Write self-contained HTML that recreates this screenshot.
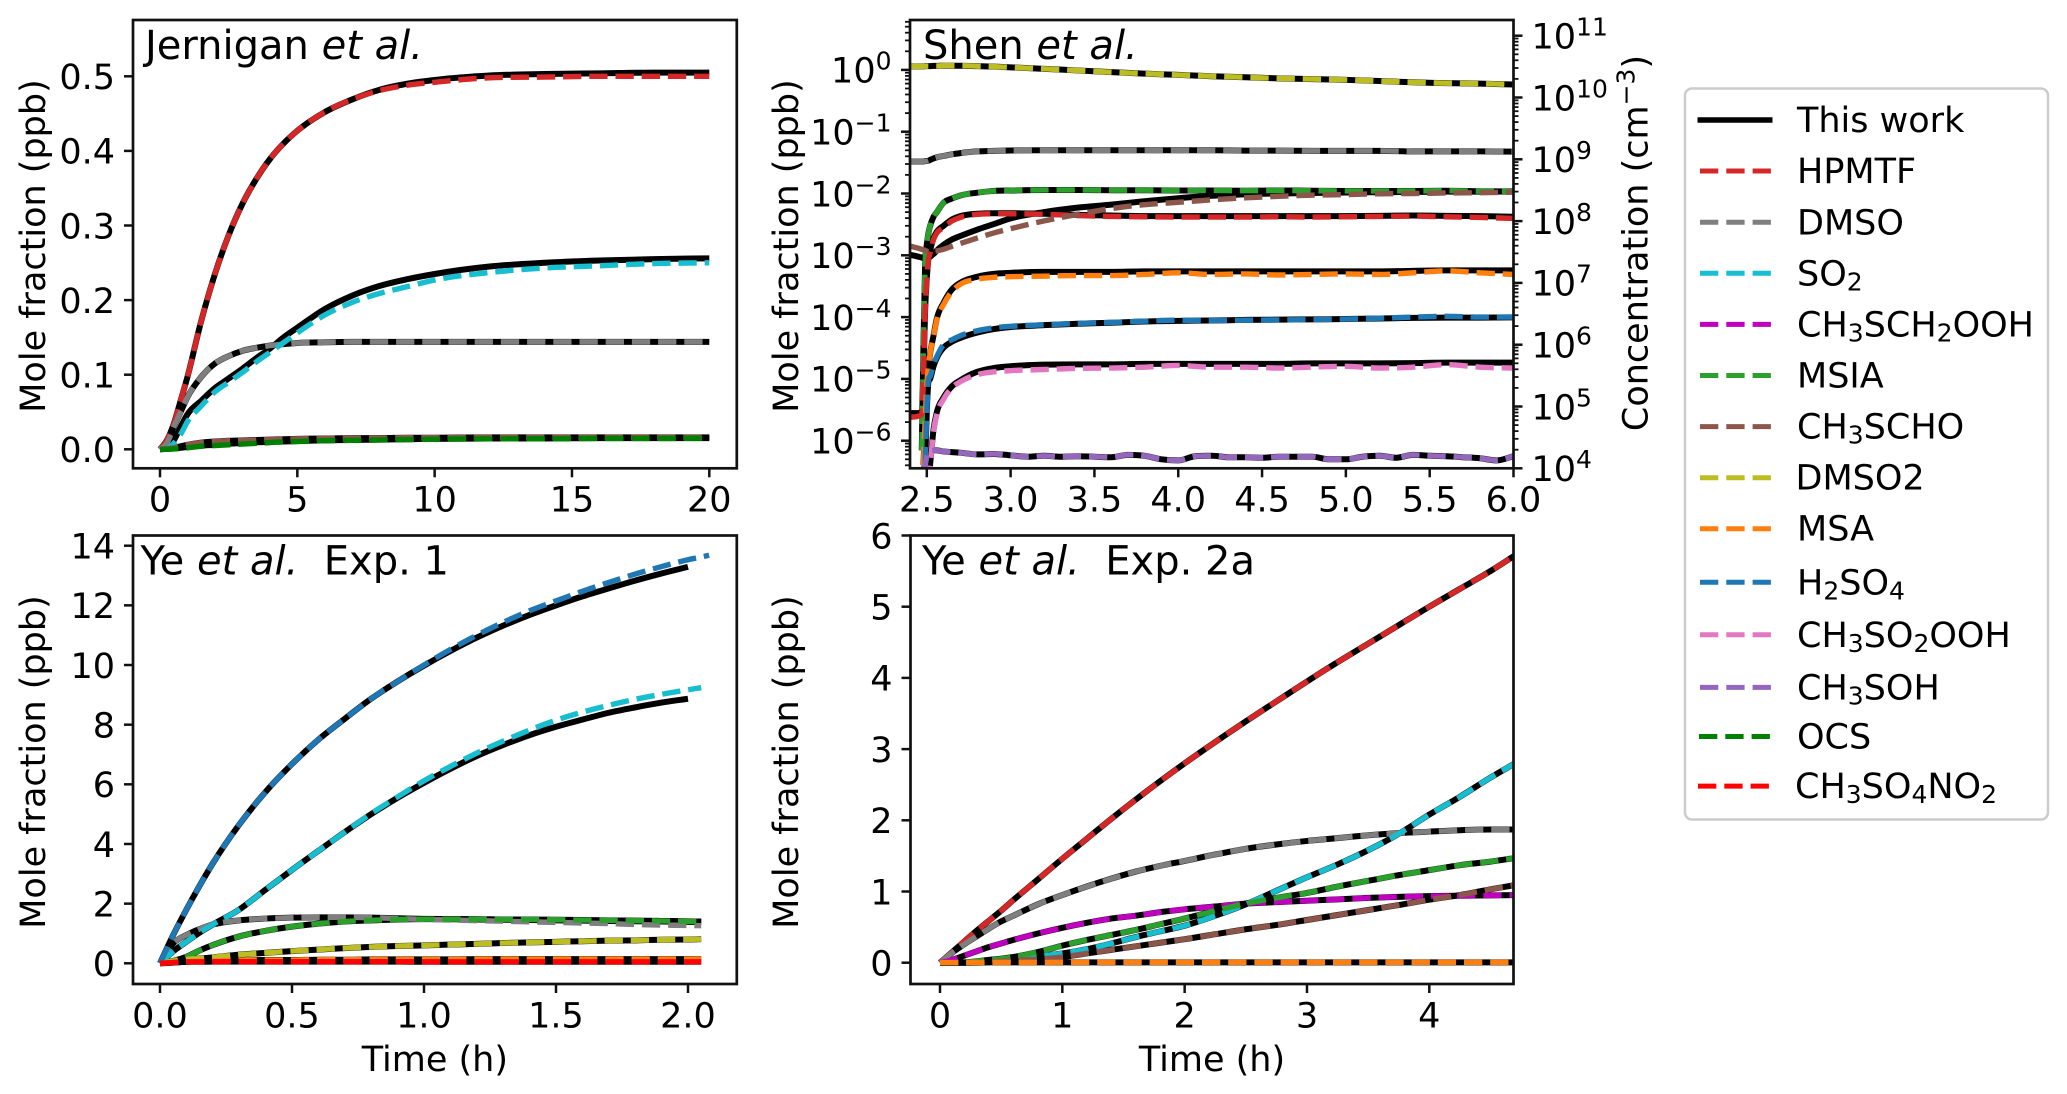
<!DOCTYPE html>
<html lang="en">
<head>
<meta charset="utf-8">
<title>Multi-panel mole fraction chart</title>
<style>
  html,body{margin:0;padding:0;background:#fff;}
  svg{display:block;}
  text{font-family:"DejaVu Sans","Liberation Sans",sans-serif;fill:#000;white-space:pre;}
  .sub{font-size:25px;}
</style>
</head>
<body>
<svg id="chart" xmlns="http://www.w3.org/2000/svg" width="2067" height="1094" viewBox="0 0 2067 1094">
  <rect x="0" y="0" width="2067" height="1094" fill="#fff"/>
  <g id="panels"></g>
  <g id="legend" font-size="35">
    <rect x="1685" y="88.5" width="363" height="731" rx="7" ry="7" fill="#fff" stroke="#cccccc" stroke-width="2.5"/>
    <line x1="1697.5" x2="1772.5" y1="120" y2="120" stroke="#000" stroke-width="5.5"/>
    <text x="1797" y="132">This work</text>
    <line x1="1700" x2="1771" y1="171" y2="171" stroke="#d62728" stroke-width="5" stroke-dasharray="18.3 8"/>
    <text x="1797" y="183">HPMTF</text>
    <line x1="1700" x2="1771" y1="222.3" y2="222.3" stroke="#7f7f7f" stroke-width="5" stroke-dasharray="18.3 8"/>
    <text x="1797" y="234.3">DMSO</text>
    <line x1="1700" x2="1771" y1="273.3" y2="273.3" stroke="#17becf" stroke-width="5" stroke-dasharray="18.3 8"/>
    <text x="1797" y="285.3">SO<tspan class="sub" dy="5">2</tspan></text>
    <line x1="1700" x2="1771" y1="324.4" y2="324.4" stroke="#bf00bf" stroke-width="5" stroke-dasharray="18.3 8"/>
    <text x="1797" y="336.4">CH<tspan class="sub" dy="5">3</tspan><tspan dy="-5">SCH</tspan><tspan class="sub" dy="5">2</tspan><tspan dy="-5">OOH</tspan></text>
    <line x1="1700" x2="1771" y1="375.5" y2="375.5" stroke="#2ca02c" stroke-width="5" stroke-dasharray="18.3 8"/>
    <text x="1797" y="387.5">MSIA</text>
    <line x1="1700" x2="1771" y1="426.6" y2="426.6" stroke="#8c564b" stroke-width="5" stroke-dasharray="18.3 8"/>
    <text x="1797" y="438.6">CH<tspan class="sub" dy="5">3</tspan><tspan dy="-5">SCHO</tspan></text>
    <line x1="1700" x2="1771" y1="477.7" y2="477.7" stroke="#bcbd22" stroke-width="5" stroke-dasharray="18.3 8"/>
    <text x="1795.5" y="489.7">DMSO2</text>
    <line x1="1700" x2="1771" y1="528.7" y2="528.7" stroke="#ff7f0e" stroke-width="5" stroke-dasharray="18.3 8"/>
    <text x="1797" y="540.7">MSA</text>
    <line x1="1700" x2="1771" y1="582.3" y2="582.3" stroke="#1f77b4" stroke-width="5" stroke-dasharray="18.3 8"/>
    <text x="1797" y="594.3">H<tspan class="sub" dy="5">2</tspan><tspan dy="-5">SO</tspan><tspan class="sub" dy="5">4</tspan></text>
    <line x1="1700" x2="1771" y1="634.8" y2="634.8" stroke="#e377c2" stroke-width="5" stroke-dasharray="18.3 8"/>
    <text x="1797" y="646.8">CH<tspan class="sub" dy="5">3</tspan><tspan dy="-5">SO</tspan><tspan class="sub" dy="5">2</tspan><tspan dy="-5">OOH</tspan></text>
    <line x1="1700" x2="1771" y1="687.4" y2="687.4" stroke="#9467bd" stroke-width="5" stroke-dasharray="18.3 8"/>
    <text x="1797" y="699.4">CH<tspan class="sub" dy="5">3</tspan><tspan dy="-5">SOH</tspan></text>
    <line x1="1699" x2="1770" y1="736.5" y2="736.5" stroke="#008000" stroke-width="5" stroke-dasharray="18.3 8"/>
    <text x="1797" y="748.5">OCS</text>
    <line x1="1698" x2="1769" y1="786.1" y2="786.1" stroke="#ff0000" stroke-width="5" stroke-dasharray="18.3 8"/>
    <text x="1795" y="798.1">CH<tspan class="sub" dy="5">3</tspan><tspan dy="-5">SO</tspan><tspan class="sub" dy="5">4</tspan><tspan dy="-5">NO</tspan><tspan class="sub" dy="5">2</tspan></text>
  </g>
</svg>
<script>
// ---- Jernigan et al. ----
const jernXTicks = [0, 5, 10, 15, 20];
const jernYTicks = [0, 0.1, 0.2, 0.3, 0.4, 0.5];
const jernTime = [0,.25,.5,.75,1,1.5,2,2.5,3,3.5,4,4.5,5,6,7,8,9,10,12,14,16,18,20];
const jernHpmtfModel = [0,.012,.034,.065,.097,.172,.235,.287,.329,.362,.389,.41,.427,.452,.469,.482,.49,.495,.501,.503,.504,.505,.505];
const jernHpmtf = [0,.012,.034,.065,.097,.172,.235,.287,.329,.362,.389,.41,.427,.452,.469,.481,.488,.492,.498,.499,.5,.5,.5];
const jernSo2Model = [0,.002,.012,.03,.047,.065,.082,.095,.108,.122,.135,.15,.163,.188,.206,.219,.228,.235,.245,.25,.253,.255,.256];
const jernSo2 = [0,.001,.008,.02,.037,.058,.077,.09,.103,.117,.13,.143,.156,.18,.197,.209,.218,.227,.237,.243,.246,.249,.25];
const jernDmso = [0,.008,.03,.05,.07,.097,.115,.125,.132,.136,.139,.141,.1425,.1435,.144,.144,.144,.144,.144,.144,.144,.144,.144];
const jernCh3scho = [0,.001,.002,.004,.006,.009,.0105,.0115,.012,.0125,.013,.0135,.014,.0145,.015,.015,.0155,.0155,.016,.016,.016,.016,.016];
const jernOcs = [0,0,.0005,.001,.002,.004,.005,.006,.007,.008,.009,.01,.0105,.0115,.012,.0125,.013,.0135,.014,.014,.0145,.0145,.015];
const jernOcsModel = [0,.0005,.001,.002,.003,.005,.006,.0075,.0085,.0095,.01,.0105,.011,.012,.0125,.013,.0135,.014,.0145,.0145,.015,.015,.015];

// ---- Shen et al. ----
const shenXTicks = [2.5, 3, 3.5, 4, 4.5, 5, 5.5, 6];
const shenLeftExponents = [-6, -5, -4, -3, -2, -1, 0];
const shenRightExponents = [4, 5, 6, 7, 8, 9, 10, 11];
const shenTime = [2.4,2.45,2.47,2.48,2.49,2.5,2.51,2.52,2.54,2.56,2.6,2.65,2.7,2.8,2.9,3,3.2,3.4,3.6,3.8,4,4.2,4.4,4.6,4.8,5,5.2,5.4,5.6,5.8,6];
const shenDmso2 = [1.13,1.14,1.14,1.14,1.15,1.15,1.15,1.15,1.16,1.16,1.17,1.17,1.17,1.15,1.13,1.10,1.04,.98,.92,.87,.83,.79,.76,.73,.71,.69,.66,.63,.61,.6,.58];
const shenDmso = [.033,.033,.033,.033,.0335,.0335,.034,.035,.037,.0385,.0405,.043,.045,.048,.049,.0497,.05,.05,.05,.05,.05,.05,.0495,.0495,.049,.049,.049,.048,.048,.048,.0477];
const shenMsia = [null,null,7e-7,3.4e-5,7e-4,1.5e-3,2.3e-3,3e-3,4.2e-3,5e-3,7.1e-3,8.3e-3,9.3e-3,1.03e-2,1.1e-2,.0112,.0114,.0114,.0113,.0113,.0112,.0112,.0111,.0112,.0111,.011,.011,.011,.0111,.0109,.0108];
const shenHpmtf = [2.4e-6,2.5e-6,2.7e-6,1e-5,1.2e-4,4e-4,8.5e-4,1.1e-3,1.8e-3,2.3e-3,2.8e-3,3.6e-3,4.1e-3,4.6e-3,4.7e-3,4.7e-3,4.6e-3,4.4e-3,4.25e-3,4.2e-3,4.15e-3,4.15e-3,4.15e-3,4.2e-3,4.15e-3,4.2e-3,4.25e-3,4.3e-3,4.2e-3,4.1e-3,3.95e-3];
const shenHpmtfModel = [2.8e-6,2.8e-6,3e-6,1.2e-5,1.3e-4,4.2e-4,9e-4,1.2e-3,1.9e-3,2.4e-3,3e-3,3.8e-3,4.3e-3,4.7e-3,4.8e-3,4.8e-3,4.7e-3,4.5e-3,4.4e-3,4.3e-3,4.3e-3,4.3e-3,4.3e-3,4.3e-3,4.3e-3,4.3e-3,4.35e-3,4.4e-3,4.35e-3,4.3e-3,4.2e-3];
const shenCh3scho = [1.41e-3,1.3e-3,1.25e-3,1.23e-3,1.2e-3,1.17e-3,1.16e-3,1.15e-3,1.16e-3,1.18e-3,1.25e-3,1.4e-3,1.55e-3,1.9e-3,2.3e-3,2.7e-3,3.6e-3,4.6e-3,5.7e-3,6.6e-3,7.2e-3,7.9e-3,8.5e-3,9e-3,9.4e-3,9.6e-3,9.9e-3,1e-2,1.02e-2,1.03e-2,1.05e-2];
const shenCh3schoModel = [1.02e-3,9.5e-4,9.2e-4,9e-4,8.9e-4,8.8e-4,9e-4,9.5e-4,1.05e-3,1.2e-3,1.48e-3,1.8e-3,2.05e-3,2.6e-3,3.2e-3,3.95e-3,5e-3,5.9e-3,6.6e-3,7.5e-3,8.4e-3,9.2e-3,9.7e-3,1e-2,1.02e-2,1.04e-2,1.05e-2,1.06e-2,1.07e-2,1.07e-2,1.08e-2];
const shenMsa = [null,null,null,4e-7,2e-6,8e-6,1.6e-5,2.6e-5,4.9e-5,9.1e-5,1.6e-4,2.6e-4,3.4e-4,4.1e-4,4.4e-4,4.5e-4,4.6e-4,4.7e-4,4.7e-4,4.9e-4,5.2e-4,4.9e-4,5e-4,4.8e-4,4.9e-4,5e-4,4.9e-4,5.2e-4,5.6e-4,5.2e-4,4.9e-4];
const shenMsaModel = [null,null,null,4e-7,2e-6,8e-6,1.6e-5,2.6e-5,5e-5,9.5e-5,1.7e-4,2.8e-4,3.6e-4,4.5e-4,5e-4,5.2e-4,5.4e-4,5.4e-4,5.4e-4,5.5e-4,5.5e-4,5.5e-4,5.5e-4,5.5e-4,5.5e-4,5.5e-4,5.5e-4,5.6e-4,5.7e-4,5.7e-4,5.7e-4];
const shenH2so4 = [null,null,null,null,4e-7,3e-6,1e-5,1.1e-5,1.7e-5,2.3e-5,3.6e-5,4.3e-5,5e-5,6e-5,6.7e-5,7.1e-5,7.5e-5,7.9e-5,8.2e-5,8.6e-5,8.9e-5,8.8e-5,8.9e-5,9e-5,9.1e-5,9.3e-5,9.6e-5,1e-4,1.03e-4,1e-4,1e-4];
const shenH2so4Model = [null,null,null,null,4e-7,3e-6,9e-6,1e-5,1.6e-5,2.2e-5,3.2e-5,4e-5,4.6e-5,5.6e-5,6.4e-5,6.9e-5,7.4e-5,7.8e-5,8.1e-5,8.5e-5,8.7e-5,8.8e-5,9e-5,9.1e-5,9.2e-5,9.3e-5,9.5e-5,9.7e-5,9.8e-5,9.8e-5,9.9e-5];
const shenCh3so2ooh = [null,null,null,null,null,null,2e-7,3.9e-7,1.4e-6,2.7e-6,4.7e-6,7.2e-6,9e-6,1.17e-5,1.3e-5,1.36e-5,1.42e-5,1.48e-5,1.5e-5,1.55e-5,1.65e-5,1.55e-5,1.55e-5,1.5e-5,1.55e-5,1.6e-5,1.5e-5,1.55e-5,1.7e-5,1.55e-5,1.5e-5];
const shenCh3so2oohModel = [null,null,null,null,null,null,2.2e-7,4.2e-7,1.5e-6,2.9e-6,5e-6,7.6e-6,9.5e-6,1.3e-5,1.5e-5,1.6e-5,1.7e-5,1.72e-5,1.72e-5,1.75e-5,1.75e-5,1.75e-5,1.75e-5,1.75e-5,1.78e-5,1.78e-5,1.78e-5,1.8e-5,1.83e-5,1.83e-5,1.83e-5];
const shenSohTime = [2.47,2.48,2.49,2.5,2.51,2.52,2.55,2.6,2.7,2.8,2.9,3,3.1,3.2,3.3,3.4,3.5,3.6,3.7,3.8,3.9,4,4.1,4.2,4.3,4.4,4.5,4.6,4.7,4.8,4.9,5,5.1,5.2,5.3,5.4,5.5,5.6,5.7,5.8,5.9,6];
const shenCh3soh = [3e-7,3.5e-7,4e-7,5.5e-7,6.5e-7,6.8e-7,7e-7,6.7e-7,6.4e-7,6e-7,6.1e-7,5.8e-7,5.5e-7,5.7e-7,5.5e-7,5.6e-7,5.5e-7,5.4e-7,5.9e-7,5.7e-7,5e-7,4.8e-7,5.6e-7,5.7e-7,5.4e-7,5.4e-7,5.3e-7,5.5e-7,5.5e-7,5.5e-7,5e-7,5e-7,5.5e-7,5.7e-7,5.3e-7,5.9e-7,5.7e-7,5.6e-7,5.4e-7,5.2e-7,4.8e-7,5.6e-7];

// ---- Ye et al. Exp. 1 ----
const ye1XTicks = [0, 0.5, 1, 1.5, 2];
const ye1YTicks = [0, 2, 4, 6, 8, 10, 12, 14];
const ye1Time = [0,.05,.1,.15,.2,.3,.4,.5,.6,.7,.8,.9,1,1.1,1.2,1.3,1.4,1.5,1.6,1.7,1.8,1.9,2,2.05,2.08];
const ye1H2so4 = [0,.95,1.8,2.6,3.35,4.65,5.75,6.68,7.5,8.2,8.87,9.45,10,10.52,11,11.43,11.82,12.15,12.47,12.77,13.05,13.3,13.53,13.62,13.68];
const ye1H2so4Model = [0,.95,1.8,2.6,3.35,4.65,5.75,6.68,7.5,8.2,8.87,9.45,9.98,10.47,10.92,11.32,11.68,12,12.3,12.57,12.83,13.07,13.29,null,null];
const ye1So2 = [0,.4,.72,1.03,1.3,1.8,2.47,3.13,3.77,4.4,5.02,5.58,6.12,6.6,7.05,7.45,7.82,8.15,8.42,8.65,8.85,9.02,9.17,9.24,null];
const ye1So2Model = [0,.4,.72,1.03,1.3,1.8,2.47,3.13,3.77,4.4,5,5.55,6.05,6.52,6.95,7.32,7.65,7.93,8.17,8.4,8.58,8.74,8.87,null,null];
const ye1Dmso = [0,.67,.95,1.15,1.3,1.44,1.5,1.53,1.54,1.54,1.53,1.5,1.47,1.45,1.43,1.41,1.39,1.37,1.35,1.33,1.3,1.28,1.27,1.26,null];
const ye1DmsoModel = [0,.67,.95,1.15,1.3,1.44,1.5,1.53,1.54,1.54,1.53,1.51,1.49,1.48,1.47,1.46,1.45,1.44,1.43,1.42,1.41,1.4,1.39,1.38,null];
const ye1Msia = [0,.08,.22,.43,.61,.9,1.09,1.23,1.33,1.4,1.44,1.47,1.48,1.48,1.48,1.47,1.47,1.46,1.45,1.44,1.43,1.42,1.41,1.4,null];
const ye1Dmso2 = [0,.07,.13,.16,.2,.29,.35,.41,.46,.51,.55,.58,.6,.63,.65,.68,.7,.72,.74,.76,.77,.79,.8,.81,null];
const ye1Msa = [0,.02,.05,.07,.08,.1,.11,.11,.12,.12,.13,.13,.13,.13,.14,.14,.14,.14,.14,.14,.14,.14,.14,.14,null];
const ye1Ch3so4no2 = [0,.03,.05,.05,.055,.055,.055,.055,.055,.055,.055,.055,.05,.05,.05,.05,.05,.05,.05,.05,.05,.05,.05,.05,null];

// ---- Ye et al. Exp. 2a ----
const ye2XTicks = [0, 1, 2, 3, 4];
const ye2YTicks = [0, 1, 2, 3, 4, 5, 6];
const ye2Time = [0,.1,.2,.3,.4,.5,.6,.8,1,1.2,1.4,1.6,1.8,2,2.25,2.5,2.75,3,3.25,3.5,3.75,4,4.25,4.5,4.7];
const ye2Hpmtf = [0,.15,.3,.45,.59,.73,.88,1.17,1.46,1.74,2.02,2.29,2.55,2.8,3.1,3.39,3.67,3.95,4.22,4.48,4.74,5,5.25,5.5,5.72];
const ye2Dmso = [0,.14,.26,.37,.48,.58,.66,.82,.95,1.07,1.18,1.28,1.36,1.43,1.52,1.6,1.66,1.71,1.75,1.79,1.82,1.84,1.86,1.87,1.87];
const ye2So2 = [0,0,0,.005,.02,.03,.05,.09,.13,.19,.27,.36,.44,.52,.66,.82,1.01,1.2,1.38,1.58,1.81,2.08,2.33,2.6,2.8];
const ye2Ch3sch2ooh = [0,.04,.1,.16,.22,.27,.32,.41,.49,.56,.62,.66,.71,.75,.79,.83,.85,.87,.89,.91,.925,.935,.94,.945,.95];
const ye2Msia = [0,0,.005,.02,.04,.055,.08,.15,.24,.32,.39,.46,.54,.62,.73,.83,.91,.98,1.07,1.15,1.23,1.3,1.37,1.42,1.47];
const ye2Ch3scho = [0,0,0,0,.01,.02,.03,.05,.08,.13,.18,.23,.28,.33,.4,.47,.53,.6,.67,.74,.81,.885,.95,1.03,1.09];
const ye2Msa = [0,.002,.003,.003,.004,.004,.004,.004,.005,.005,.005,.005,.005,.005,.005,.005,.005,.005,.005,.005,.005,.005,.005,.005,.005];

// ---- Series colours ----
const C = {hpmtf:'#d62728',dmso:'#7f7f7f',so2:'#17becf',ch3sch2ooh:'#bf00bf',msia:'#2ca02c',ch3scho:'#8c564b',dmso2:'#bcbd22',msa:'#ff7f0e',h2so4:'#1f77b4',ch3so2ooh:'#e377c2',ch3soh:'#9467bd',ocs:'#008000',ch3so4no2:'#ff0000'};

const NS = 'http://www.w3.org/2000/svg';
const root = document.getElementById('panels');

function make(tag, parent, attrs) {
  const node = document.createElementNS(NS, tag);
  for (const k in attrs) node.setAttribute(k, attrs[k]);
  parent.appendChild(node);
  return node;
}
function linearAxis(d0, p0, d1, p1) {
  return v => p0 + (v - d0) * (p1 - p0) / (d1 - d0);
}
function logAxis(e0, p0, e1, p1) {
  return v => p0 + (Math.log10(v) - e0) * (p1 - p0) / (e1 - e0);
}
// Limited three-point cubic through the mapped data points
function curvePath(xs, ys) {
  const p = [];
  xs.forEach((x, i) => { if (ys[i] !== null) p.push([x, ys[i]]); });
  const n = p.length, d = [], w = [], m = [];
  for (let i = 0; i < n - 1; i++) {
    w.push(p[i+1][0] - p[i][0]);
    d.push((p[i+1][1] - p[i][1]) / w[i]);
  }
  m[0] = d[0]; m[n-1] = d[n-2];
  for (let i = 1; i < n - 1; i++) {
    if (d[i-1] * d[i] <= 0) { m[i] = 0; continue; }
    const est = (w[i] * d[i-1] + w[i-1] * d[i]) / (w[i-1] + w[i]);
    const lim = 3 * Math.min(Math.abs(d[i-1]), Math.abs(d[i]));
    m[i] = Math.sign(est) * Math.min(Math.abs(est), lim);
  }
  let s = 'M' + p[0][0].toFixed(2) + ' ' + p[0][1].toFixed(2);
  for (let i = 0; i < n - 1; i++) {
    const h = w[i] / 3;
    s += 'C' + (p[i][0] + h).toFixed(2) + ' ' + (p[i][1] + m[i] * h).toFixed(2) + ' ' +
         (p[i+1][0] - h).toFixed(2) + ' ' + (p[i+1][1] - m[i+1] * h).toFixed(2) + ' ' +
         p[i+1][0].toFixed(2) + ' ' + p[i+1][1].toFixed(2);
  }
  return s;
}
function drawSeries(panel, name, time, values, color) {
  const xs = time.map(panel.x);
  const ys = values.map(v => v === null ? null : panel.y(v));
  const path = make('path', panel.plot, {d: curvePath(xs, ys), fill: 'none', stroke: color || '#000',
    'stroke-width': color ? 5.4 : 6, 'stroke-dasharray': color ? '18.3 7.9' : 'none'});
  
  
}
function createPanel(id, box, x, y) {
  const g = make('g', root, {});
  
  
  const clip = make('clipPath', g, {id: id + '-clip'});
  make('rect', clip, {x: box.left, y: box.top, width: box.right - box.left, height: box.bottom - box.top});
  const plot = make('g', g, {'clip-path': 'url(#' + id + '-clip)'});
  
  
  return {id, g, plot, x, y, ...box};
}
function drawFrame(panel) {
  const frame = make('rect', panel.g, {x: panel.left, y: panel.top, width: panel.right - panel.left,
    height: panel.bottom - panel.top, fill: 'none', stroke: '#111', 'stroke-width': 2.7});
  
  
}
function xTicks(panel, ticks, digits) {
  ticks.forEach(t => {
    const px = panel.x(t);
    const tick = make('line', panel.g, {x1: px, x2: px, y1: panel.bottom, y2: panel.bottom + 9, stroke: '#111', 'stroke-width': 2.5});
    
    
    const label = make('text', panel.g, {x: px, y: panel.bottom + 43.4, 'text-anchor': 'middle', 'font-size': 35});
    label.textContent = t.toFixed(digits);
    
    
  });
}
function yTicks(panel, ticks, digits) {
  ticks.forEach(t => {
    const py = panel.y(t);
    const tick = make('line', panel.g, {x1: panel.left - 9, x2: panel.left, y1: py, y2: py, stroke: '#111', 'stroke-width': 2.5});
    
    
    const label = make('text', panel.g, {x: panel.left - 18, y: py + 12.8, 'text-anchor': 'end', 'font-size': 35});
    label.textContent = t.toFixed(digits);
    
    
  });
}
function logTicks(panel, exps, scale, side) {
  const edge = side === 'left' ? panel.left : panel.right;
  const dir = side === 'left' ? -1 : 1;
  for (let e = exps[0] - 1; e <= exps[exps.length - 1] + 1; e++) {
    for (let k = 2; k <= 9; k++) {
      const py = scale(k * Math.pow(10, e));
      if (py < panel.top || py > panel.bottom) continue;
      const minor = make('line', panel.g, {x1: edge, x2: edge + dir * 5, y1: py, y2: py, stroke: '#111', 'stroke-width': 1.8});
      
      
    }
  }
  exps.forEach(e => {
    const py = scale(Math.pow(10, e));
    const tick = make('line', panel.g, {x1: edge, x2: edge + dir * 9, y1: py, y2: py, stroke: '#111', 'stroke-width': 2.5});
    
    
    const label = make('text', panel.g, side === 'left'
      ? {x: edge - 18.5, y: py + 12.8, 'text-anchor': 'end', 'font-size': 35}
      : {x: edge + 18, y: py + 12.8, 'text-anchor': 'start', 'font-size': 35});
    
    
    label.textContent = '10';
    const sup = make('tspan', label, {dy: -13, 'font-size': 25});
    sup.textContent = String(e).replace('-', '\u2212');
  });
}
function title(panel, x, y, before, after) {
  const t = make('text', panel.g, {x, y, 'font-size': 40});
  
  
  t.appendChild(document.createTextNode(before + ' '));
  const it = make('tspan', t, {'font-style': 'italic'});
  it.textContent = 'et al.';
  if (after) t.appendChild(document.createTextNode('  ' + after));
}
function axisLabelY(panel, x, y, text) {
  const t = make('text', panel.g, {transform: 'translate(' + x + ' ' + y + ') rotate(-90)', 'text-anchor': 'middle', 'font-size': 35});
  t.textContent = text;
  
  
  return t;
}
function axisLabelX(panel, text) {
  const t = make('text', panel.g, {x: (panel.left + panel.right) / 2, y: 1071, 'text-anchor': 'middle', 'font-size': 35});
  t.textContent = text;
  
  
}

// ---- Panel A ----
const pa = createPanel('jernigan', {left:133, right:736.8, top:20, bottom:468.3}, linearAxis(0,160,20,709.3), linearAxis(0,449.3,0.5,76.3));
[jernHpmtfModel, jernSo2Model, jernDmso, jernCh3scho, jernOcsModel].forEach(v => drawSeries(pa, 'jernigan-this-work-line', jernTime, v));
drawSeries(pa, 'jernigan-hpmtf-line', jernTime, jernHpmtf, C.hpmtf);
drawSeries(pa, 'jernigan-dmso-line', jernTime, jernDmso, C.dmso);
drawSeries(pa, 'jernigan-so2-line', jernTime, jernSo2, C.so2);
drawSeries(pa, 'jernigan-ch3scho-line', jernTime, jernCh3scho, C.ch3scho);
drawSeries(pa, 'jernigan-ocs-line', jernTime, jernOcs, C.ocs);
drawFrame(pa);
xTicks(pa, jernXTicks, 0);
yTicks(pa, jernYTicks, 1);
title(pa, 145, 59, 'Jernigan');
axisLabelY(pa, 44.8, 272 - 26, 'Mole fraction (ppb)');

// ---- Panel B ----
const pb = createPanel('shen', {left:910, right:1513.5, top:20, bottom:468.3}, linearAxis(2.5,926.8,6,1513.5), logAxis(0,69.9,-6,440.7));
const shenRight = logAxis(4,468.3,11,35.7);
[shenDmso2, shenDmso, shenMsia, shenHpmtfModel, shenCh3schoModel, shenMsaModel, shenH2so4Model, shenCh3so2oohModel].forEach(v => drawSeries(pb, 'shen-this-work-line', shenTime, v));
drawSeries(pb, 'shen-this-work-line', shenSohTime, shenCh3soh);
drawSeries(pb, 'shen-msia-line', shenTime, shenMsia, C.msia);
drawSeries(pb, 'shen-hpmtf-line', shenTime, shenHpmtf, C.hpmtf);
drawSeries(pb, 'shen-dmso-line', shenTime, shenDmso, C.dmso);
drawSeries(pb, 'shen-ch3scho-line', shenTime, shenCh3scho, C.ch3scho);
drawSeries(pb, 'shen-dmso2-line', shenTime, shenDmso2, C.dmso2);
drawSeries(pb, 'shen-msa-line', shenTime, shenMsa, C.msa);
drawSeries(pb, 'shen-h2so4-line', shenTime, shenH2so4, C.h2so4);
drawSeries(pb, 'shen-ch3so2ooh-line', shenTime, shenCh3so2ooh, C.ch3so2ooh);
drawSeries(pb, 'shen-ch3soh-line', shenSohTime, shenCh3soh, C.ch3soh);
drawFrame(pb);
xTicks(pb, shenXTicks, 1);
logTicks(pb, shenLeftExponents, pb.y, 'left');
logTicks(pb, shenRightExponents, shenRight, 'right');
title(pb, 923, 59, 'Shen');
axisLabelY(pb, 798, 246, 'Mole fraction (ppb)');
const concLabel = axisLabelY(pb, 1647.5, 243, 'Concentration (cm');
const concSup = make('tspan', concLabel, {dy: -13, 'font-size': 25});
concSup.textContent = '\u22123';
const concEnd = make('tspan', concLabel, {dy: 13});
concEnd.textContent = ')';

// ---- Panel C ----
const pc = createPanel('ye-exp1', {left:133, right:736.8, top:535.5, bottom:984}, linearAxis(0,160,2,688), linearAxis(0,963.3,14,545.7));
[ye1H2so4Model, ye1So2Model, ye1DmsoModel, ye1Msia, ye1Dmso2, ye1Msa, ye1Ch3so4no2].forEach(v => drawSeries(pc, 'ye-exp1-this-work-line', ye1Time, v));
drawSeries(pc, 'ye-exp1-dmso-line', ye1Time, ye1Dmso, C.dmso);
drawSeries(pc, 'ye-exp1-so2-line', ye1Time, ye1So2, C.so2);
drawSeries(pc, 'ye-exp1-msia-line', ye1Time, ye1Msia, C.msia);
drawSeries(pc, 'ye-exp1-dmso2-line', ye1Time, ye1Dmso2, C.dmso2);
drawSeries(pc, 'ye-exp1-msa-line', ye1Time, ye1Msa, C.msa);
drawSeries(pc, 'ye-exp1-h2so4-line', ye1Time, ye1H2so4, C.h2so4);
drawSeries(pc, 'ye-exp1-ch3so4no2-line', ye1Time, ye1Ch3so4no2, C.ch3so4no2);
drawFrame(pc);
xTicks(pc, ye1XTicks, 1);
yTicks(pc, ye1YTicks, 0);
title(pc, 140.5, 574.5, 'Ye', 'Exp. 1');
axisLabelY(pc, 44.8, 762, 'Mole fraction (ppb)');
axisLabelX(pc, 'Time (h)');

// ---- Panel D ----
const pd = createPanel('ye-exp2a', {left:910.5, right:1513.5, top:535.5, bottom:984}, linearAxis(0,940,4,1429.3), linearAxis(0,962.7,6,535.5));
[ye2Hpmtf, ye2Dmso, ye2So2, ye2Ch3sch2ooh, ye2Msia, ye2Ch3scho, ye2Msa].forEach(v => drawSeries(pd, 'ye-exp2a-this-work-line', ye2Time, v));
drawSeries(pd, 'ye-exp2a-hpmtf-line', ye2Time, ye2Hpmtf, C.hpmtf);
drawSeries(pd, 'ye-exp2a-dmso-line', ye2Time, ye2Dmso, C.dmso);
drawSeries(pd, 'ye-exp2a-so2-line', ye2Time, ye2So2, C.so2);
drawSeries(pd, 'ye-exp2a-ch3sch2ooh-line', ye2Time, ye2Ch3sch2ooh, C.ch3sch2ooh);
drawSeries(pd, 'ye-exp2a-msia-line', ye2Time, ye2Msia, C.msia);
drawSeries(pd, 'ye-exp2a-ch3scho-line', ye2Time, ye2Ch3scho, C.ch3scho);
drawSeries(pd, 'ye-exp2a-msa-line', ye2Time, ye2Msa, C.msa);
drawFrame(pd);
xTicks(pd, ye2XTicks, 0);
yTicks(pd, ye2YTicks, 0);
title(pd, 922, 574.5, 'Ye', 'Exp. 2a');
axisLabelY(pd, 798, 762, 'Mole fraction (ppb)');
axisLabelX(pd, 'Time (h)');
</script>
</body>
</html>
